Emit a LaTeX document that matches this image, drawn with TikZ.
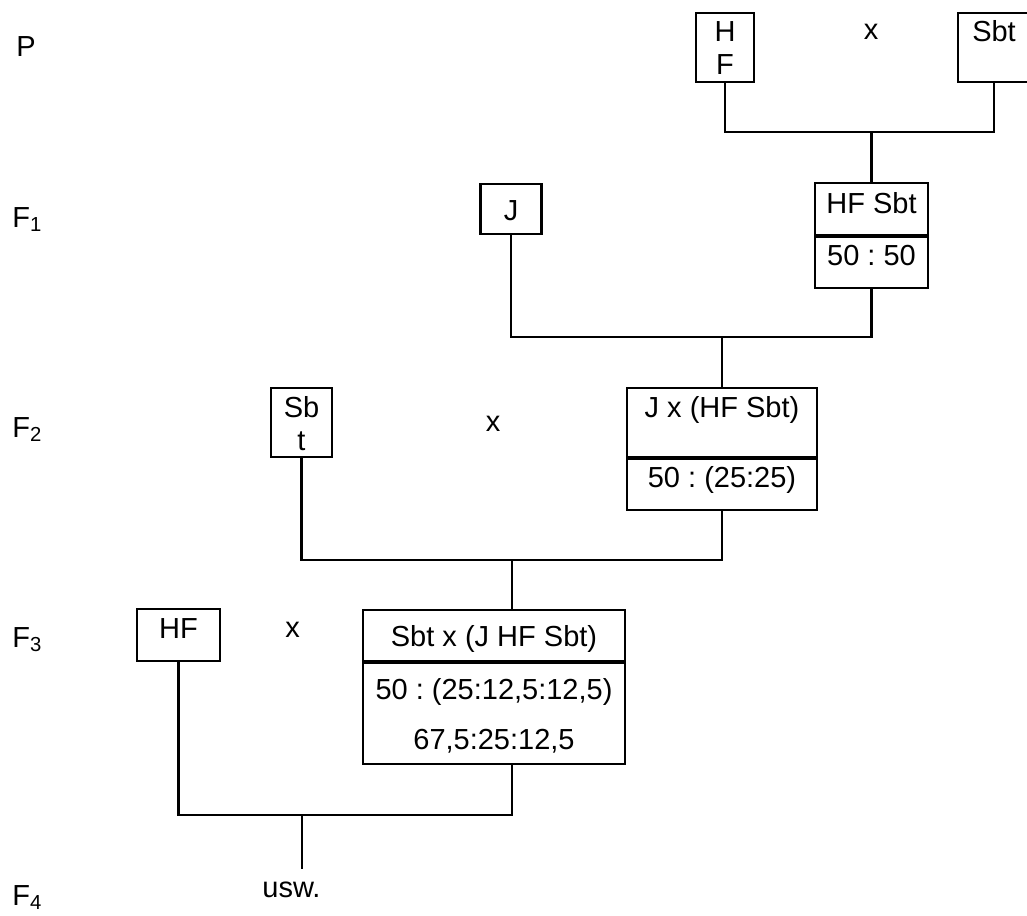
\documentclass[tikz,border=0pt]{standalone}
\usepackage{fontspec}
\setmainfont{Liberation Sans}
\usetikzlibrary{positioning}
\frenchspacing

\begin{document}
\begin{tikzpicture}[
    x=0.5pt, y=-0.5pt,
    node distance=0pt,
    cell/.style={draw, line width=1.1pt, inner sep=0pt, align=center,
                 font=\fontsize{14.5pt}{16.5pt}\selectfont,
                 text height=11pt, text depth=8pt},
    txt/.style={inner sep=0pt, anchor=base,
                font=\fontsize{14.5pt}{16.5pt}\selectfont},
    gen/.style={txt, anchor=base west},
    link/.style={line width=1.1pt}
  ]
  \useasboundingbox (0,0) rectangle (1027,915);

  \node[gen] (gP) at (16,57) {P};
  \node[gen] (gF1) at (12,227) {F\textsubscript{1}};
  \node[gen] (gF2) at (12,437) {F\textsubscript{2}};
  \node[gen] (gF3) at (12,647) {F\textsubscript{3}};
  \node[gen] (gF4) at (12,905) {F\textsubscript{4}};

  \node[cell, minimum width=29pt, minimum height=34.5pt, text height=27.5pt, text depth=0pt] (hfP) at (725,47.5) {H\\F};
  \node[txt] (xP) at (871,40) {x};
  \node[cell, minimum width=36pt, minimum height=34.5pt, text depth=16.5pt] (sbtP) at (994,47.5) {Sbt};

  \node[cell, minimum width=30.5pt, minimum height=25pt, text depth=0pt] (jF1) at (511,209) {J};
  \node[cell, minimum width=56.5pt, minimum height=26pt, text depth=7pt] (hfs1) at (871.5,209) {HF Sbt};
  \node[cell, minimum width=56.5pt, minimum height=25.5pt, text depth=8.5pt, below=of hfs1] (hfs2) {50 : 50};

  \node[cell, minimum width=30.5pt, minimum height=34.5pt, text height=27.5pt, text depth=0pt] (sbtF2) at (301.5,422.5) {Sb\\t};
  \node[txt] (xF2) at (493,431) {x};
  \node[cell, minimum width=95pt, minimum height=34.5pt, text depth=16.5pt] (jx1) at (722,422.5) {J x (HF Sbt)};
  \node[cell, minimum width=95pt, minimum height=25.5pt, text depth=8.5pt, below=of jx1] (jx2) {50 : (25:25)};

  \node[cell, minimum width=41.5pt, minimum height=26pt] (hfF3) at (178.5,635) {HF};
  \node[txt] (xF3) at (292.5,637) {x};
  \node[cell, minimum width=131pt, minimum height=25.5pt, text depth=0pt] (sx1) at (494,635.5) {Sbt x (J HF Sbt)};
  \node[cell, minimum width=131pt, minimum height=50.5pt, text height=35.5pt, text depth=0pt, below=of sx1] (sx2) {50 : (25:12,5:12,5)\\[8.5pt]67,5:25:12,5};

  \node[txt, anchor=north, text height=14pt] (usw) at (291.5,869) {usw.};

  \coordinate (j1) at (871.5,132);
  \draw[link] (hfP.south) |- (j1) -| (sbtP.south);
  \draw[link] (j1) -- (hfs1.north);
  \coordinate (j2) at (722,337);
  \draw[link] (jF1.south) |- (j2) -| (hfs2.south);
  \draw[link] (j2) -- (jx1.north);
  \coordinate (j3) at (512,560);
  \draw[link] (sbtF2.south) |- (j3) -| (jx2.south);
  \draw[link] (j3) -- (j3 |- sx1.north);
  \coordinate (j4) at (302,815);
  \coordinate (s3) at (j3 |- sx2.south);
  \draw[link] (hfF3.south) |- (j4) -| (s3);
  \draw[link] (j4) -- (j4 |- usw.north);
\end{tikzpicture}
\end{document}
